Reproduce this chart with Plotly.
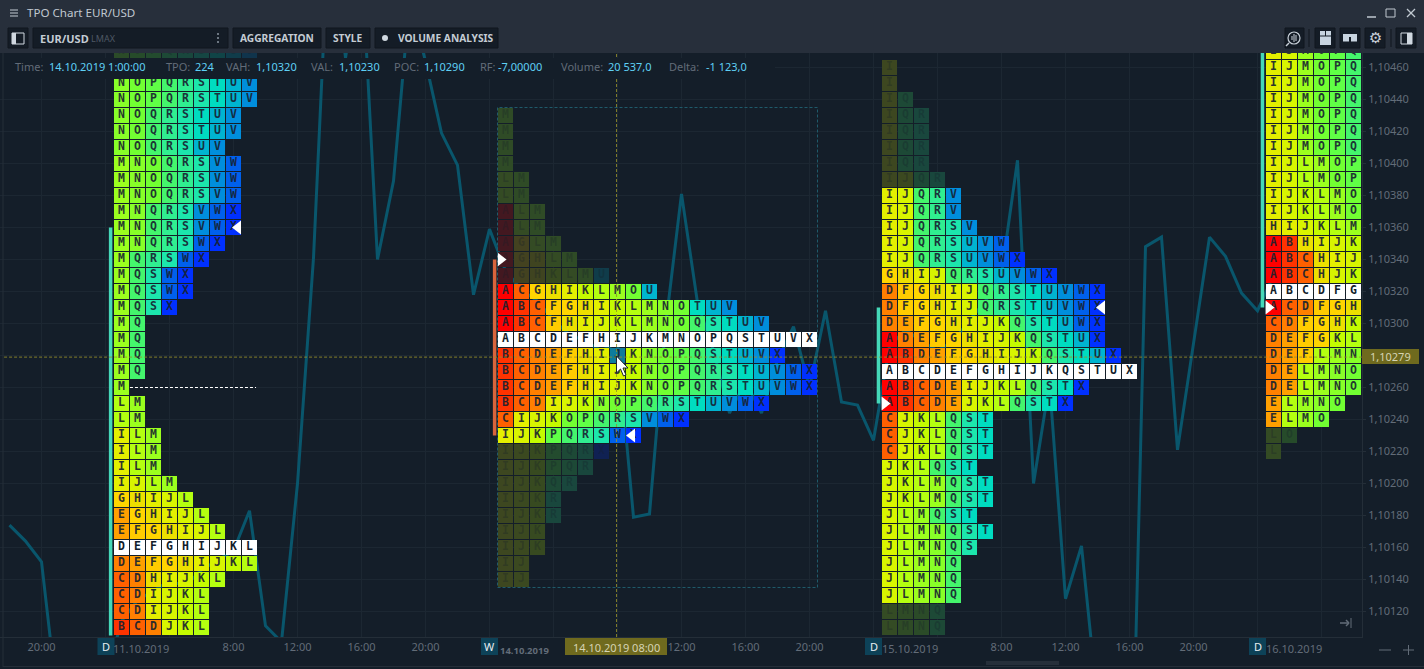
import plotly.graph_objects as go

# hours since 11.10.2019 0:00, weekend collapsed; one tick = 0.0001
close_hours = list(range(-6, 74))
close_prices = [
    1.10174, 1.10164, 1.10151, 1.10064, 1.10064, 1.10071, 1.10077, 1.10114, 1.10127, 1.10133,
    1.10139, 1.10136, 1.10146, 1.10152, 1.10158, 1.10183, 1.10111, 1.10101, 1.10200, 1.10341,
    1.10556, 1.10466, 1.10529, 1.10340, 1.10389, 1.10502, 1.10464, 1.10419, 1.10399, 1.10318,
    1.10359, 1.10333, 1.10321, 1.10314, 1.10302, 1.10293, 1.10289, 1.10283, 1.10288, 1.10179,
    1.10181, 1.10298, 1.10381, 1.10313, 1.10283, 1.10244, 1.10264, 1.10244, 1.10277, 1.10298,
    1.10260, 1.10308, 1.10251, 1.10249, 1.10227, 1.10286, 1.10296, 1.10289, 1.10283, 1.10289,
    1.10302, 1.10314, 1.10331, 1.10402, 1.10200, 1.10263, 1.10128, 1.10161, 1.10063, 1.10002,
    1.09939, 1.10348, 1.10354, 1.10221, 1.10288, 1.10354, 1.10342, 1.10319, 1.10308, 1.10330,
]

letters = "ABCDEFGHIJKLMNOPQRSTUVWX"
letter_colors = [
    "#ff0000", "#ff3300", "#ff6000", "#ff8000", "#ffa000", "#ffcc00", "#ffd500", "#ecdf00",
    "#e4ef00", "#d8f500", "#c4fb00", "#b4ff10", "#9bff1e", "#88ff28", "#72ff32", "#60ff46",
    "#44f56c", "#30ee90", "#1ce6ac", "#00dcc0", "#00b4d0", "#008edc", "#0060ec", "#0030ff",
]

day_hours = [0, 24, 48, 72]
top_prices = [1.10470, 1.10430, 1.10460, 1.10470]
poc_prices = [1.10160, 1.10290, 1.10270, 1.10320]
dim_top = [1, 11, 8, 0]
dim_bottom = [0, 9, 2, 2]

rows_11 = [
    "NOPQRSTUV", "NOPQRSTUV", "NOPQRSTUV", "NOPQRSTUV", "NOQRSTUV", "NOQRSTUV", "NOQRSUV",
    "MNOQRSVW", "MNOQRSVW", "MNOQRSVW", "MNQRSVWX", "MNQRSVWX", "MNQRSWX", "MQRSWX",
    "MQSWX", "MQSWX", "MQSX", "MQ", "MQ", "MQ", "MQ", "M", "LM", "LM", "ILM", "ILM", "ILM",
    "IJLM", "GHIJL", "EGHIJL", "EFGHIJL", "DEFGHIJKL", "DEFGHIJKL", "CDHIJKL", "CDIJKL",
    "CDIJKL", "BCDJKL",
]
rows_14 = [
    "M", "M", "M", "M", "LM", "LM", "ALM", "ALM", "AGLM", "AGHLM", "AGHKLMU",
    "ACGHIKLMOU", "ABCFGHIKLMNOTUV", "ABCFHIJKLMNOQSTUV", "ABCDEFHIJKMNOPQSTUVX",
    "BCDEFHIJKNOPQSTUVX", "BCDEFHIJKNOPQRSTUVWX", "BCDEFHIJKNOPQRSTUVWX",
    "BCDIJKNOPQRSTUVWX", "CIJKOPQRSVWX", "IJKPQRSWX",
    "IJKPQRX", "IJKPQR", "IJKQR", "IJKR", "IJKR", "IJK", "IJK", "IJ", "IJ",
]
rows_15 = [
    "I", "I", "IQ", "IQR", "IQR", "IQR", "IQR", "IJQR",
    "IJQRV", "IJQRV", "IJQRSV", "IJQRSUVW", "IJQRSUVWX", "GHIJQRSUVWX",
    "DFGHIJQRSTUVWX", "DFGHIJQRSTUVWX", "DEFGHIJKQSTUWX", "ADEFGHIJKQSTUX",
    "ABDEFGHIJKQSTUX", "ABCDEFGHIJKQSTUX", "ABCDEIJKLQSTX", "ABCDEJKLQSTX",
    "CJKLQST", "CJKLQST", "CJKLQST", "JKLQST", "JKLMQST", "JKLMQST", "JLMQST", "JLMNQST",
    "JLMNQS", "JLMNQ", "JLMNQ", "JLMNQ", "LMNQ", "LMNQ",
]
rows_16 = [
    "IJMOPQ", "IJMOPQ", "IJMOPQ", "IJMOPQ", "IJMOPQ", "IJMOPQ", "IJMOPQ", "IJLMOP", "IJLMOP",
    "IJKLMO", "IJKLMO", "HIJKLM", "ABHIJK", "ABCHIJ", "ABCHJK", "ABCDFG", "ACDFGH", "CDFGHK",
    "DEFGKL", "DEFLMN", "DELMNO", "DELMNO", "ELMNO", "ELMO", "LO", "L",
]
profiles = [rows_11, rows_14, rows_15, rows_16]

bar_hours = [0.32, 24.32, 48.31, 72.31]
bar_high = [1.10360, 1.10340, 1.10310, 1.10490]
bar_low = [1.10105, 1.10230, 1.10250, 1.10310]
bar_colors = ["#45d8b8", "#d8643c", "#45d8b8", "#45d8b8"]

arrow_left_hours = [8.28, 32.91, 62.28]
arrow_left_prices = [1.10360, 1.10230, 1.10310]
arrow_right_hours = [24.69, 48.69, 72.69]
arrow_right_prices = [1.10340, 1.10250, 1.10310]

y_ticks = [1.10120, 1.10140, 1.10160, 1.10180, 1.10200, 1.10220, 1.10240, 1.10260, 1.10280,
           1.10300, 1.10320, 1.10340, 1.10360, 1.10380, 1.10400, 1.10420, 1.10440, 1.10460]
x_ticks = [-4, 0, 4, 8, 12, 16, 20, 24, 28, 32, 36, 40, 44, 48, 52, 56, 60, 64, 68, 72, 76]
x_labels = ["20:00", "", "", "8:00", "12:00", "16:00", "20:00", "", "", "", "12:00", "16:00",
            "20:00", "", "", "8:00", "12:00", "16:00", "20:00", "", ""]

cross_hour = 31.94
cross_price = 1.10279
hover_cell = (1.10280, 32)

BG = "#141e29"
GRID = "#1c2732"
BAR = "#272f3b"
BTN = "#141c26"
MUTED = "#626c78"
VALUE = "#5fd0f5"
UI_FONT = "Noto Sans"
PLOT_W = 1362
PLOT_H = 584
PLOT_T = 53


def blend(color, alpha):
    r, g, b = [int(color[i:i + 2], 16) for i in (1, 3, 5)]
    br, bg, bb = [int(BG[i:i + 2], 16) for i in (1, 3, 5)]
    return "rgb(%d,%d,%d)" % (r * alpha + br * (1 - alpha), g * alpha + bg * (1 - alpha), b * alpha + bb * (1 - alpha))


cell_x, cell_y, cell_text, cell_color, text_color = [], [], [], [], []
for p, rows in enumerate(profiles):
    for i, row in enumerate(rows):
        price = round(top_prices[p] - i * 0.0001, 5)
        dim = i < dim_top[p] or i >= len(rows) - dim_bottom[p]
        for j, ch in enumerate(row):
            hour = day_hours[p] + 1 + j
            col = letter_colors[letters.index(ch)]
            if price == poc_prices[p]:
                fill, txt = "#ffffff", "#121c2a"
            elif dim:
                fill, txt = blend(col, 0.2), "rgba(20,30,41,0.3)"
            else:
                fill, txt = col, "rgba(24,34,48,0.92)"
            if (price, hour) == hover_cell:
                fill = "#0e7c9c"
            cell_x.append(hour)
            cell_y.append(price)
            cell_text.append(ch)
            cell_color.append(fill)
            text_color.append(txt)

fig = go.Figure()
fig.add_trace(go.Scatter(x=close_hours, y=close_prices, mode="lines",
                         line=dict(color="#09566c", width=3)))
fig.add_trace(go.Scatter(x=cell_x, y=cell_y, text=cell_text, mode="markers+text",
                         marker=dict(symbol="square", size=15, color=cell_color, line=dict(width=0)),
                         textposition="middle center",
                         textfont=dict(family="DejaVu Sans Mono", size=11.5, color=text_color, weight="bold")))
for i in range(4):
    fig.add_trace(go.Scatter(x=[bar_hours[i], bar_hours[i]], y=[bar_low[i], bar_high[i]], mode="lines",
                             line=dict(color=bar_colors[i], width=3.5)))
fig.add_trace(go.Scatter(x=arrow_left_hours, y=arrow_left_prices, mode="markers",
                         marker=dict(symbol="triangle-left", size=12, color="#ffffff", line=dict(width=0))))
fig.add_trace(go.Scatter(x=arrow_right_hours, y=arrow_right_prices, mode="markers",
                         marker=dict(symbol="triangle-right", size=12, color="#ffffff", line=dict(width=0))))


def px_x(x):
    return x / PLOT_W


def px_y(y):
    return (PLOT_T + PLOT_H - y) / PLOT_H


shapes = []
notes = []


def rect(x0, y0, x1, y1, fill, line=None):
    shapes.append(dict(type="rect", xref="paper", yref="paper", x0=px_x(x0), x1=px_x(x1), y0=px_y(y1), y1=px_y(y0),
                       fillcolor=fill, line=dict(width=1 if line else 0, color=line or fill)))


def seg(x0, y0, x1, y1, color, width=1):
    shapes.append(dict(type="line", xref="paper", yref="paper", x0=px_x(x0), x1=px_x(x1), y0=px_y(y0), y1=px_y(y1),
                       line=dict(color=color, width=width)))


def poly(points, fill, line=None):
    d = "M" + " L".join("%f,%f" % (px_x(x), px_y(y)) for x, y in points) + " Z"
    shapes.append(dict(type="path", xref="paper", yref="paper", path=d, fillcolor=fill,
                       line=dict(width=1 if line else 0, color=line or fill)))


def label(x, y, text, color=MUTED, size=11, anchor="left", bold=False, family=UI_FONT):
    notes.append(dict(xref="paper", yref="paper", x=px_x(x), y=px_y(y), text=text, showarrow=False,
                      xanchor=anchor, yanchor="middle", borderpad=0,
                      font=dict(family=family, size=size, color=color, weight="bold" if bold else "normal")))


# lines inside the plot, in data coordinates
for day in day_hours:
    shapes.append(dict(type="line", xref="x", yref="paper", x0=day, x1=day, y0=0, y1=1, layer="below",
                       line=dict(color="#1d5b6e", width=1, dash="4px,3px")))
shapes.append(dict(type="rect", xref="x", yref="y", x0=24.5, x1=44.5, y0=1.10135, y1=1.10435,
                   line=dict(color="#1f5a6a", width=1, dash="3px,2px")))
shapes.append(dict(type="line", xref="x", yref="y", x0=1.53, x1=9.41, y0=1.10260, y1=1.10260,
                   line=dict(color="#ffffff", width=1, dash="3px,2px")))
shapes.append(dict(type="line", xref="paper", yref="y", x0=0.003, x1=1, y0=cross_price, y1=cross_price,
                   line=dict(color="rgba(150,145,45,0.85)", width=1, dash="3px,2px")))
shapes.append(dict(type="line", xref="x", yref="paper", x0=cross_hour, x1=cross_hour, y0=0, y1=1,
                   line=dict(color="rgba(150,145,45,0.85)", width=1, dash="3px,2px")))

# info strip
rect(0, 58, 775, 79, BG)
for x, text, color in [
    (14, "Time:", MUTED), (48, "14.10.2019 1:00:00", VALUE), (165, "TPO:", MUTED), (194, "224", VALUE),
    (225, "VAH:", MUTED), (255, "1,10320", VALUE), (310, "VAL:", MUTED), (338, "1,10230", VALUE),
    (393, "POC:", MUTED), (423, "1,10290", VALUE), (479, "RF:", MUTED), (497, "-7,00000", VALUE),
    (560, "Volume:", MUTED), (607, "20 537,0", VALUE), (668, "Delta:", MUTED), (705, "-1 123,0", VALUE),
]:
    label(x, 67, text, color, 11)

# window header and toolbar
rect(0, 0, 1424, 53, BAR)
for y in (10, 13, 16):
    seg(10, y, 18, y, "#c4ccd4", 1)
label(26, 13, "TPO Chart EUR/USD", "#c0c8d0", 11.6)
seg(1367, 17, 1376, 17, "#c0c8d0", 1.5)
rect(1386, 9, 1395, 17, BAR, "#c0c8d0")
seg(1407, 9, 1415, 17, "#c0c8d0", 1.2)
seg(1415, 9, 1407, 17, "#c0c8d0", 1.2)

for x0, x1 in [(8, 28), (33, 228), (233, 321), (326, 370), (375, 498),
               (1285, 1304), (1315, 1335), (1340, 1360), (1365, 1385), (1396, 1416)]:
    rect(x0, 28, x1, 48, BTN, "#10161e")
seg(1309, 29, 1309, 47, "#10161e", 1)
seg(1391, 29, 1391, 47, "#10161e", 1)

rect(12, 33, 24, 44, BTN, "#d0d8e0")
rect(12, 33, 16, 44, "#d0d8e0")
label(39, 38, "EUR/USD", "#c4ccd4", 11, bold=True)
label(90, 38, "LMAX", "#4e5864", 9)
for y in (34, 38, 42):
    rect(217, y - 0.8, 219, y + 0.8, "#8a94a0")
label(277, 38, "AGGREGATION", "#c4ccd4", 10.2, "center", True)
label(348, 38, "STYLE", "#c4ccd4", 10.2, "center", True)
shapes.append(dict(type="circle", xref="paper", yref="paper", x0=px_x(382), x1=px_x(388), y0=px_y(41), y1=px_y(35),
                   fillcolor="#d0d8e0", line=dict(width=0)))
label(446, 38, "VOLUME ANALYSIS", "#c4ccd4", 10.2, "center", True)

shapes.append(dict(type="circle", xref="paper", yref="paper", x0=px_x(1288), x1=px_x(1300), y0=px_y(44), y1=px_y(32),
                   line=dict(color="#c8d0d8", width=1.2)))
for x, h in [(1292, 2), (1294, 4), (1296, 3)]:
    seg(x, 38 - h, x, 38 + h, "#c8d0d8", 1)
seg(1289, 43, 1286, 46, "#c8d0d8", 1.5)
rect(1320, 31, 1331, 45, "#c8d4e0")
seg(1325.5, 31, 1325.5, 36, BTN, 1)
seg(1320, 36, 1331, 36, BTN, 1)
rect(1343, 34, 1357, 42, "#c8d4e0")
seg(1350, 37, 1350, 42, BTN, 2)
seg(1343, 42, 1357, 42, BTN, 1)
label(1375, 38, "\u2699", "#c8d0d8", 15, "center", family="DejaVu Sans")
rect(1401, 33, 1412, 44, BTN, "#d0d8e0")
rect(1407, 33, 1412, 44, "#d0d8e0")

# bottom strip
for x, text in [(106, "D"), (489.5, "W"), (873.5, "D"), (1257.5, "D")]:
    rect(x - 8.5, 638, x + 8.5, 655, "#0d4258")
    label(x, 646.5, text, "#e8eef2", 11, "center")
label(111.5, 648, "11.10.2019", MUTED, 11)
label(499, 650, "14.10.2019", MUTED, 9.5, bold=True)
label(880.5, 648, "15.10.2019", MUTED, 11)
label(1264.5, 648, "16.10.2019", MUTED, 11)
rect(565, 638, 667, 655, "#6f6a1e")
label(616, 647, "14.10.2019 08:00", "#d6d4b4", 11, "center")
rect(1362, 349, 1419, 364, "#6f6a1e")
label(1390, 356.5, "1,10279", "#d6d4b4", 11, "center")

seg(1340, 623, 1349, 623, MUTED, 1.5)
seg(1346, 620, 1349, 623, MUTED, 1.5)
seg(1346, 626, 1349, 623, MUTED, 1.5)
seg(1351, 618, 1351, 628, MUTED, 1)
seg(1379, 650, 1391, 650, MUTED, 1)
seg(1403, 650, 1414, 650, MUTED, 1)
seg(1408.5, 645, 1408.5, 655, MUTED, 1)
rect(986, 661, 1059, 665, "#262f3a")
seg(3, 666.5, 1424, 666.5, "#252e38", 1)
seg(3, 53, 3, 667, "#252e38", 1)

# mouse pointer over the hovered cell
poly([(616.5, 356), (616.5, 373), (620.5, 369), (623.5, 376), (626, 375), (623, 368), (628, 368)], "#ffffff", "#1a2430")

fig.update_layout(
    width=1424, height=669,
    margin=dict(l=0, r=1424 - PLOT_W, t=PLOT_T, b=669 - PLOT_T - PLOT_H, pad=0),
    paper_bgcolor=BG, plot_bgcolor=BG,
    showlegend=False, hovermode=False, separators=", ",
    shapes=shapes, annotations=notes,
    font=dict(family=UI_FONT, size=11, color=MUTED),
    xaxis=dict(range=[-105.5 / 16, (PLOT_W - 105.5) / 16], tickvals=x_ticks, ticktext=x_labels,
               showgrid=True, gridcolor=GRID, gridwidth=1, zeroline=False, showline=True, linecolor="#242e38",
               ticks="", tickfont=dict(family=UI_FONT, size=11, color=MUTED)),
    yaxis=dict(range=[1.1012 - 25.5 / 160000, 1.1012 + 558.5 / 160000], side="right", tickvals=y_ticks,
               tickformat=".5f", showgrid=True, gridcolor=GRID, gridwidth=1, zeroline=False, showline=True,
               linecolor="#242e38", ticks="outside", ticklen=3, tickcolor="#242e38",
               tickfont=dict(family=UI_FONT, size=11, color=MUTED)),
)

fig.write_html("out.html", config=dict(displayModeBar=False),
               post_script="document.body.style.margin='0';")
